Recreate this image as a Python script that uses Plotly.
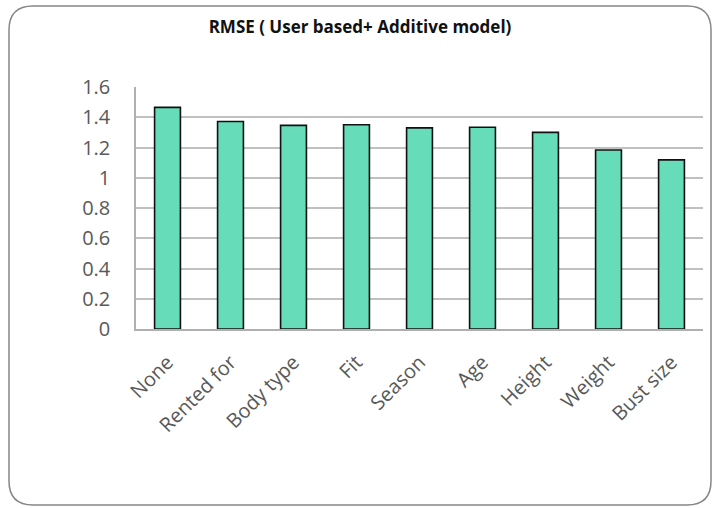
import plotly.graph_objects as go

# RMSE per feature added to the user-based + additive model
features = ["None", "Rented for", "Body type", "Fit", "Season", "Age", "Height", "Weight", "Bust size"]
rmse = [1.465, 1.372, 1.346, 1.350, 1.330, 1.334, 1.300, 1.183, 1.118]
y_ticks = [0, 0.2, 0.4, 0.6, 0.8, 1, 1.2, 1.4, 1.6]
y_tick_text = ["0", "0.2", "0.4", "0.6", "0.8", "1", "1.2", "1.4", "1.6"]

W, H = 719, 508
L, R, T, B = 136, 16, 87, 179
pw, ph = W - L - R, H - T - B


def px(x):
    return (x - L) / pw


def py(y):
    return (H - B - y) / ph


# rounded card outline drawn in paper coordinates
x0, x1, y0, y1, r = 9, 711, 6, 505, 24
card = (
    f"M {px(x0 + r)},{py(y0)} L {px(x1 - r)},{py(y0)} "
    f"Q {px(x1)},{py(y0)} {px(x1)},{py(y0 + r)} "
    f"L {px(x1)},{py(y1 - r)} Q {px(x1)},{py(y1)} {px(x1 - r)},{py(y1)} "
    f"L {px(x0 + r)},{py(y1)} Q {px(x0)},{py(y1)} {px(x0)},{py(y1 - r)} "
    f"L {px(x0)},{py(y0 + r)} Q {px(x0)},{py(y0)} {px(x0 + r)},{py(y0)} Z"
)

fig = go.Figure(
    go.Bar(
        x=features,
        y=rmse,
        marker=dict(color="#66DDB8", line=dict(color="#111111", width=1.6)),
    )
)

fig.update_layout(
    width=W,
    height=H,
    margin=dict(l=L, r=R, t=T, b=B),
    paper_bgcolor="white",
    plot_bgcolor="white",
    bargap=0.59,
    showlegend=False,
    title=dict(
        text="<b>RMSE ( User based+ Additive model)</b>",
        x=px(360),
        xref="paper",
        xanchor="center",
        y=1 - 27 / H,
        yanchor="middle",
        font=dict(family="Open Sans", size=17, color="#111111"),
    ),
    shapes=[
        dict(
            type="path",
            path=card,
            xref="paper",
            yref="paper",
            line=dict(color="#868686", width=1.5),
            fillcolor="rgba(0,0,0,0)",
            layer="below",
        )
    ],
)

fig.update_yaxes(
    range=[0, 1.6],
    tickvals=y_ticks,
    ticktext=y_tick_text,
    showgrid=True,
    gridcolor="#c0c0c0",
    gridwidth=1.5,
    zeroline=False,
    showline=True,
    linecolor="#b0b0b0",
    linewidth=1.5,
    ticks="",
    ticklabelstandoff=20,
    tickfont=dict(family="Open Sans", size=20, color="#595959"),
)

fig.update_xaxes(
    showline=True,
    linecolor="#b0b0b0",
    linewidth=1.5,
    ticks="",
    tickangle=-45,
    ticklabelstandoff=12,
    tickfont=dict(family="Open Sans", size=20, color="#595959"),
)

fig.write_html("out.html")
